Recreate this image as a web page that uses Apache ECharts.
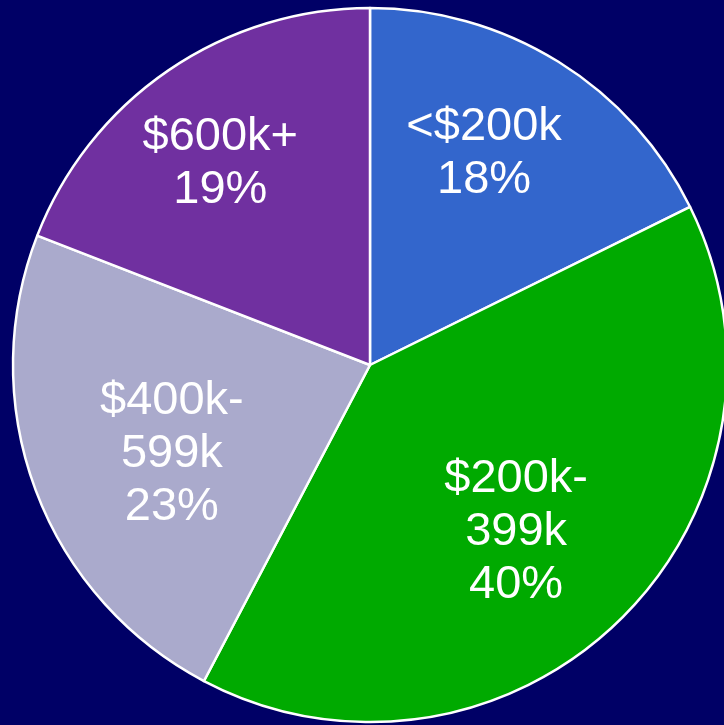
<!DOCTYPE html>
<html>
<head>
<meta charset="utf-8">
<script src="https://cdn.jsdelivr.net/npm/echarts@6/dist/echarts.min.js"></script>
<style>
html,body{margin:0;padding:0;background:#000066;}
#chart{width:724px;height:725px;}
</style>
</head>
<body>
<div id="chart"></div>
<script>
const categories = ['<$200k', '$200k-399k', '$400k-599k', '$600k+'];
const shares = [17.7, 40.0, 23.2, 19.1];          // slice sizes
const shareLabels = ['18%', '40%', '23%', '19%'];  // printed percentages
const colors = ['#3366CC', '#00AA00', '#AAAACC', '#7030A0'];
const labelNudge = [[-10, -12], [-18, -1], [22, 7], [-17, -7]];

const chart = echarts.init(document.getElementById('chart'), null, {renderer: 'canvas'});
const center = [370, 365];
const R = 357;

chart.setOption({
  backgroundColor: '#000066',
  animation: false,
  series: [
    {
      type: 'pie',
      center: center,
      radius: [0, R],
      startAngle: 90,
      clockwise: true,
      silent: true,
      data: categories.map((c, i) => ({name: c, value: shares[i], itemStyle: {color: colors[i]}})),
      itemStyle: {borderColor: '#ffffff', borderWidth: 2.5},
      label: {show: false},
      labelLine: {show: false}
    },
    {
      type: 'pie',
      center: center,
      radius: [R * 0.48, R * 0.82],
      startAngle: 90,
      clockwise: true,
      silent: true,
      data: categories.map((c, i) => ({name: c, value: shares[i]})),
      itemStyle: {color: 'rgba(0,0,0,0)', borderWidth: 0},
      label: {
        show: true,
        position: 'inside',
        color: '#ffffff',
        fontFamily: 'Liberation Sans, Arial, sans-serif',
        fontSize: 47,
        lineHeight: 53,
        align: 'center',
        formatter: p => p.name.replace('-', '-\n') + '\n' + shareLabels[p.dataIndex]
      },
      labelLayout: p => ({dx: labelNudge[p.dataIndex][0], dy: labelNudge[p.dataIndex][1]}),
      labelLine: {show: false}
    }
  ]
});
</script>
</body>
</html>
